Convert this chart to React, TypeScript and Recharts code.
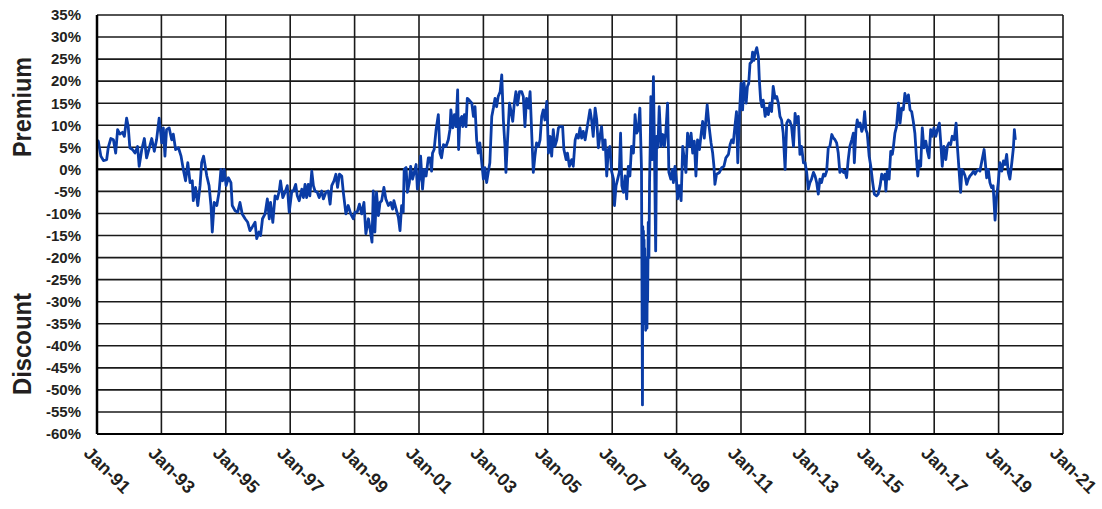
import React from "react";
import { CartesianGrid, Line, LineChart, ReferenceLine, XAxis, YAxis } from "recharts";

// [decimal year, premium/discount %]
const period1991 = [
  [1991.0, 6.6], [1991.04, 6.4], [1991.12, 3], [1991.2, 2], [1991.3, 2.2], [1991.35, 5], [1991.43, 7],
  [1991.51, 6.7], [1991.58, 3.7], [1991.64, 9], [1991.71, 8], [1991.79, 8.4], [1991.85, 7.5], [1991.92, 11.6],
  [1991.97, 9.7], [1992.02, 4.9], [1992.1, 4.5], [1992.18, 3.7], [1992.26, 5.2], [1992.31, 0.7], [1992.39, 4.5],
  [1992.47, 7], [1992.54, 2.6], [1992.61, 4.5], [1992.7, 7], [1992.78, 4.1], [1992.85, 6.7], [1992.93, 11.6],
  [1993.01, 6], [1993.06, 9.4], [1993.11, 3], [1993.16, 9], [1993.24, 9.4], [1993.32, 6.7], [1993.37, 8],
  [1993.44, 4.5], [1993.53, 4.9], [1993.61, 3], [1993.68, 0], [1993.75, -2.6], [1993.82, 1.5], [1993.89, -3],
  [1993.96, -2.6], [1993.99, -7.1], [1994.06, -4.1], [1994.13, -8.2], [1994.2, -3.7], [1994.25, 1.5],
  [1994.31, 3], [1994.41, -1.5], [1994.48, -3.7], [1994.54, -8.2], [1994.58, -14.2], [1994.64, -7.5],
  [1994.72, -8.2], [1994.79, -5.2], [1994.85, 0], [1994.9, -2.6], [1994.95, 0], [1995.01, -3.7],
  [1995.08, -1.9], [1995.16, -3], [1995.2, -8.2], [1995.29, -9.4], [1995.37, -9.7], [1995.44, -7.5],
  [1995.51, -10.1], [1995.6, -11.2], [1995.68, -12], [1995.75, -13.9], [1995.82, -13.1], [1995.91, -12],
  [1995.96, -15.7], [1996.03, -14.2],
];

const period1996 = [
  [1996.08, -15], [1996.14, -11.2], [1996.22, -10.1], [1996.29, -6.7], [1996.35, -11.2], [1996.39, -7.5],
  [1996.46, -12], [1996.53, -6], [1996.6, -6.7], [1996.66, -4.9], [1996.7, -2.6], [1996.77, -6.4],
  [1996.84, -5.2], [1996.91, -3.7], [1996.97, -9.7], [1997.05, -4.9], [1997.1, -4.9], [1997.17, -3.4],
  [1997.22, -6], [1997.28, -7.1], [1997.36, -4.5], [1997.41, -6.4], [1997.46, -3.4], [1997.51, -6.4],
  [1997.56, -3.4], [1997.61, -6], [1997.67, -0.4], [1997.72, -3.7], [1997.77, -4.9], [1997.84, -5.2],
  [1997.9, -6.4], [1997.98, -4.9], [1998.03, -6.7], [1998.11, -5.2], [1998.18, -4.9], [1998.24, -7.9],
  [1998.29, -3.7], [1998.36, -2.6], [1998.42, -1.1], [1998.47, -4.1], [1998.53, -1.1], [1998.6, -1.5],
  [1998.65, -5.2], [1998.73, -10.1], [1998.8, -8.2], [1998.88, -10.1], [1998.96, -11.2], [1999.01, -9.7],
  [1999.08, -9.7], [1999.15, -7.9], [1999.22, -10.1], [1999.29, -7.5], [1999.35, -14.6], [1999.43, -11.2],
  [1999.48, -13.5], [1999.54, -16.5], [1999.58, -4.9], [1999.63, -14.2], [1999.68, -5.2], [1999.74, -10.5],
  [1999.79, -7.5], [1999.84, -7.1], [1999.91, -4.1], [1999.97, -6.7], [2000.05, -8.2], [2000.12, -7.5],
  [2000.18, -9], [2000.22, -7.1], [2000.29, -9], [2000.36, -10.9], [2000.41, -13.9], [2000.46, -8.2],
  [2000.51, -9.7], [2000.54, 0], [2000.6, 0.4], [2000.64, -5.2], [2000.7, -3], [2000.74, 0.7], [2000.8, -2.2],
  [2000.84, -1.1], [2000.91, 1.1], [2000.95, -4.5], [2001.01, -2.2], [2001.05, 3], [2001.11, -4.5],
  [2001.16, 0], [2001.22, -1.5], [2001.29, 2.6],
];

const period2001 = [
  [2001.34, 2.6], [2001.39, -0.4], [2001.42, 3.7], [2001.47, 4.5], [2001.53, 9], [2001.6, 12.4], [2001.65, 3.7],
  [2001.7, 2.6], [2001.76, 5.6], [2001.84, 5.2], [2001.91, 6.7], [2001.96, 9], [2001.99, 13.5], [2002.05, 9.4],
  [2002.1, 12.4], [2002.15, 9.7], [2002.2, 18], [2002.23, 4.5], [2002.27, 11.2], [2002.33, 12], [2002.36, 9.7],
  [2002.41, 12.4], [2002.46, 9.7], [2002.5, 16.1], [2002.56, 15.7], [2002.64, 15], [2002.69, 12],
  [2002.74, 14.2], [2002.79, 6.7], [2002.84, 3.7], [2002.89, 6], [2002.95, 1.5], [2003.0, -2.2],
  [2003.05, 0.4], [2003.1, -3], [2003.15, -0.7], [2003.2, 1.5], [2003.26, 12], [2003.31, 13.9],
  [2003.36, 16.1], [2003.41, 14.2], [2003.46, 16.5], [2003.52, 17.6], [2003.57, 21.4], [2003.62, 11.2],
  [2003.67, 5.2], [2003.7, -0.7], [2003.75, 6.7], [2003.81, 15], [2003.86, 13.1], [2003.91, 10.9],
  [2003.96, 15], [2004.01, 17.6], [2004.06, 14.6], [2004.12, 17.6], [2004.19, 17.6], [2004.24, 16.5],
  [2004.29, 9.7], [2004.34, 16.1], [2004.4, 13.9], [2004.45, 17.6], [2004.5, 8.2], [2004.55, -0.7],
  [2004.6, 3], [2004.65, 6], [2004.71, 5.2], [2004.76, 6.7], [2004.81, 12], [2004.86, 13.5], [2004.91, 11.2],
  [2004.97, 15.4], [2005.02, 3.7], [2005.07, 7.5], [2005.12, 3], [2005.17, 9], [2005.22, 5.2], [2005.28, 6.7],
  [2005.33, 9.4], [2005.38, 9.7], [2005.46, 9.7], [2005.5, 4.5], [2005.57, 2.2], [2005.61, 3.7],
  [2005.67, 0.7], [2005.74, 2.2], [2005.79, 0.7], [2005.85, 6.7], [2005.9, 7.9], [2005.95, 7.1], [2006.0, 9.4],
];

const period2006 = [
  [2006.05, 7.1], [2006.1, 8.6], [2006.16, 6.7], [2006.21, 9], [2006.26, 11.2], [2006.31, 13.5],
  [2006.36, 11.2], [2006.41, 7.5], [2006.47, 13.9], [2006.52, 11.2], [2006.57, 4.9], [2006.62, 7.5],
  [2006.67, 9.7], [2006.72, 4.5], [2006.78, 6.7], [2006.83, -1.5], [2006.88, 4.5], [2006.93, 5.2],
  [2006.98, -0.4], [2007.04, -2.2], [2007.07, -8.2], [2007.12, -3.7], [2007.17, -2.2], [2007.22, -0.7],
  [2007.26, 8.2], [2007.3, -3.7], [2007.35, -5.2], [2007.4, -1.5], [2007.45, -6.7], [2007.5, 0.7],
  [2007.55, -1.5], [2007.6, 5.2], [2007.66, 3.7], [2007.71, 12.4], [2007.76, 8.2], [2007.81, 9],
  [2007.86, 13.9], [2007.91, 0], [2007.94, -53.4], [2007.95, -13], [2007.96, -31], [2007.97, -14],
  [2007.98, -28], [2007.99, -16], [2008.0, -33], [2008.01, -18], [2008.02, -35], [2008.03, -20],
  [2008.04, -36.5], [2008.05, -24], [2008.06, -34], [2008.07, -22], [2008.08, -36], [2008.09, -20],
  [2008.1, -30], [2008.12, -12], [2008.14, -20], [2008.16, -3], [2008.18, 5], [2008.2, 16.5], [2008.24, 2.2],
  [2008.28, 21], [2008.31, 6], [2008.35, -18.5],
  [2008.38, 7.5], [2008.42, 5], [2008.46, 14.2], [2008.52, 5.2], [2008.57, 7.9], [2008.62, 5.2],
  [2008.66, 7.9], [2008.72, 15], [2008.76, -0.7], [2008.82, -2.2], [2008.87, 0], [2008.9, -3],
  [2008.95, 0.7], [2009.0, -3], [2009.03, -6.7], [2009.08, -3.7], [2009.14, -7.1], [2009.19, 5.2],
  [2009.24, 2.2], [2009.29, -0.7], [2009.34, 8.2], [2009.4, 5.2], [2009.45, 8.2], [2009.5, 3.7],
  [2009.55, 6.4], [2009.6, -1.5], [2009.65, 6.7], [2009.71, 4.5], [2009.76, 7.9], [2009.81, 10.9],
  [2009.86, 7.1], [2009.91, 11.2], [2009.95, 14.6], [2010.01, 9.7], [2010.07, 6], [2010.12, 3.7],
  [2010.16, 0.7], [2010.19, -3.4], [2010.24, -1.1], [2010.33, -0.7], [2010.4, 0.4], [2010.47, 0.7],
  [2010.53, 2.6], [2010.61, 3.4], [2010.66, 5.6],
];

const period2011 = [
  [2010.71, 6.7], [2010.76, 6], [2010.81, 9.7], [2010.86, 13.1], [2010.9, 1.5], [2010.95, 12], [2011.0, 19.5],
  [2011.05, 13.5], [2011.09, 19.9], [2011.16, 15], [2011.2, 18.8], [2011.24, 19.5], [2011.28, 24],
  [2011.33, 24.4], [2011.36, 26.6], [2011.4, 24.7], [2011.43, 26.2], [2011.49, 27.6], [2011.54, 25.5],
  [2011.57, 20.2], [2011.61, 15.7], [2011.65, 14.2], [2011.69, 15.7], [2011.75, 12], [2011.8, 13.9],
  [2011.85, 12.4], [2011.9, 15], [2011.95, 13.1], [2012.0, 18.8], [2012.06, 16.1], [2012.11, 16.5],
  [2012.16, 15], [2012.21, 12], [2012.26, 11.2], [2012.31, 8.2], [2012.37, 0], [2012.42, 10.5],
  [2012.47, 11.2], [2012.52, 10.9], [2012.57, 9.7], [2012.63, 5.2], [2012.68, 12.7], [2012.73, 10.5],
  [2012.78, 12], [2012.83, 3.4], [2012.88, 5.2], [2012.94, 1.5], [2012.99, 1.5], [2013.04, -0.7],
  [2013.09, -4.5], [2013.14, -3], [2013.19, -2.2], [2013.25, -0.7], [2013.3, -1.5], [2013.35, -3],
  [2013.4, -5.6], [2013.45, -2.2], [2013.5, -3], [2013.56, -1.1], [2013.61, -1.5], [2013.66, -0.4],
  [2013.71, 4.9], [2013.76, 5.2], [2013.82, 7.9], [2013.87, 7.1], [2013.92, 6.7], [2013.97, 6],
  [2014.02, 3.7], [2014.07, -0.7], [2014.13, 0], [2014.18, -0.7], [2014.23, -0.4], [2014.28, -1.9],
  [2014.33, 2.2], [2014.38, 5.2], [2014.44, 6.7], [2014.49, 8.2], [2014.52, 1.5], [2014.57, 9],
  [2014.61, 11.2], [2014.65, 9.7], [2014.7, 10.5], [2014.75, 8.6], [2014.8, 9.7], [2014.84, 13.1],
  [2014.88, 9], [2014.92, 8.2], [2014.98, 3], [2015.03, 0.7], [2015.09, -3], [2015.14, -5.6], [2015.21, -6],
  [2015.26, -5.6], [2015.32, -3.7],
];

const period2015 = [
  [2015.37, -1.1], [2015.42, -2.2], [2015.47, -1.1], [2015.5, -4.9], [2015.54, -0.4], [2015.6, -2.2],
  [2015.65, 4.1], [2015.7, 3.4], [2015.73, 4.9], [2015.78, 8.2], [2015.83, 9.7], [2015.89, 15],
  [2015.94, 10.5], [2015.99, 13.9], [2016.04, 13.5], [2016.09, 17.2], [2016.15, 15.4], [2016.2, 16.9],
  [2016.25, 13.5], [2016.3, 13.1], [2016.35, 10.9], [2016.4, 8.2], [2016.46, 1.5], [2016.49, -1.5],
  [2016.53, 1.9], [2016.58, 0.7], [2016.63, 9.4], [2016.68, 4.9], [2016.74, 6.4], [2016.79, 4.1],
  [2016.84, 2.6], [2016.89, 9], [2016.94, 7.5], [2016.99, 9.4], [2017.05, 7.5], [2017.1, 9], [2017.16, 10.5],
  [2017.2, 6.4], [2017.25, 0.7], [2017.3, 5.2], [2017.36, 2.2], [2017.41, 5.2], [2017.46, 6], [2017.51, 5.6],
  [2017.56, 7.5], [2017.62, 6.7], [2017.68, 10.5], [2017.72, 5.2], [2017.77, 0], [2017.82, -5.2],
  [2017.86, 0], [2017.9, -0.4], [2017.96, -1.5], [2018.01, -3.4], [2018.06, -2.2], [2018.11, -1.5],
  [2018.16, -1.1], [2018.22, -0.4], [2018.27, -1.1], [2018.32, -0.4], [2018.37, 0], [2018.42, -0.4],
  [2018.48, 1.9], [2018.55, 4.5], [2018.63, -1.9], [2018.68, 0], [2018.73, -3], [2018.78, -4.1],
  [2018.83, -3.7], [2018.89, -11.5], [2018.94, -6], [2018.99, -3], [2019.04, 1.5], [2019.1, -0.4],
  [2019.15, 1.9], [2019.2, 1.1], [2019.25, 3.4], [2019.3, -0.7], [2019.35, -2.2], [2019.41, 1.5],
  [2019.46, 4.9], [2019.49, 9], [2019.52, 6.7],
];

const yearTicks = [1991, 1993, 1995, 1997, 1999, 2001, 2003, 2005, 2007, 2009, 2011, 2013, 2015, 2017, 2019, 2021];
const pctTicks = [-60, -55, -50, -45, -40, -35, -30, -25, -20, -15, -10, -5, 0, 5, 10, 15, 20, 25, 30, 35];

const series = [...period1991, ...period1996, ...period2001, ...period2006, ...period2011, ...period2015];
const data = series.map(([t, v]) => ({ t, v }));

const FONT = "'Liberation Sans', Arial, Helvetica, sans-serif";
const INK = "#231f20";

function YearTick({ x, y, payload }: any) {
  const label = `Jan-${String(payload.value).slice(2)}`;
  return (
    <g transform={`translate(${x},${y})`}>
      <text
        transform="rotate(45)"
        x={0}
        y={20}
        textAnchor="start"
        fontFamily={FONT}
        fontWeight={700}
        fontSize={18}
        fill={INK}
      >
        {label}
      </text>
    </g>
  );
}

export default function App() {
  return (
    <div style={{ position: "absolute", left: 0, top: 0, width: 1102, height: 509, background: "#fff" }}>
      <LineChart width={1102} height={509} data={data} margin={{ top: 15, right: 39, bottom: 0, left: 0 }}>
        <CartesianGrid stroke="#1a1a1a" strokeWidth={1.6} verticalValues={yearTicks} horizontalValues={pctTicks} />
        <XAxis
          dataKey="t"
          type="number"
          domain={[1991, 2021]}
          ticks={yearTicks}
          interval={0}
          height={75}
          tickLine={false}
          tickMargin={0}
          axisLine={{ stroke: "#000", strokeWidth: 2 }}
          tick={<YearTick />}
          allowDataOverflow
        />
        <YAxis
          type="number"
          domain={[-60, 35]}
          ticks={pctTicks}
          interval={0}
          width={97}
          tickLine={false}
          tickMargin={10}
          axisLine={{ stroke: "#000", strokeWidth: 2.5 }}
          tickFormatter={(v: number) => `${v}%`}
          tick={{ fontFamily: FONT, fontWeight: 700, fontSize: 15, fill: INK }}
          allowDataOverflow
        />
        <ReferenceLine y={0} stroke="#000" strokeWidth={2} />
        <Line
          type="linear"
          dataKey="v"
          stroke="#0a3ca6"
          strokeWidth={2.8}
          strokeLinejoin="round"
          dot={false}
          activeDot={false}
          isAnimationActive={false}
        />
      </LineChart>
      <svg width={1102} height={509} style={{ position: "absolute", left: 0, top: 0, pointerEvents: "none" }}>
        <text
          transform="translate(31,107) rotate(-90)"
          textAnchor="middle"
          fontFamily={FONT}
          fontWeight={700}
          fontSize={25}
          fill={INK}
          textLength={100}
          lengthAdjust="spacingAndGlyphs"
        >
          Premium
        </text>
        <text
          transform="translate(31,344) rotate(-90)"
          textAnchor="middle"
          fontFamily={FONT}
          fontWeight={700}
          fontSize={25}
          fill={INK}
          textLength={102}
          lengthAdjust="spacingAndGlyphs"
        >
          Discount
        </text>
      </svg>
    </div>
  );
}
